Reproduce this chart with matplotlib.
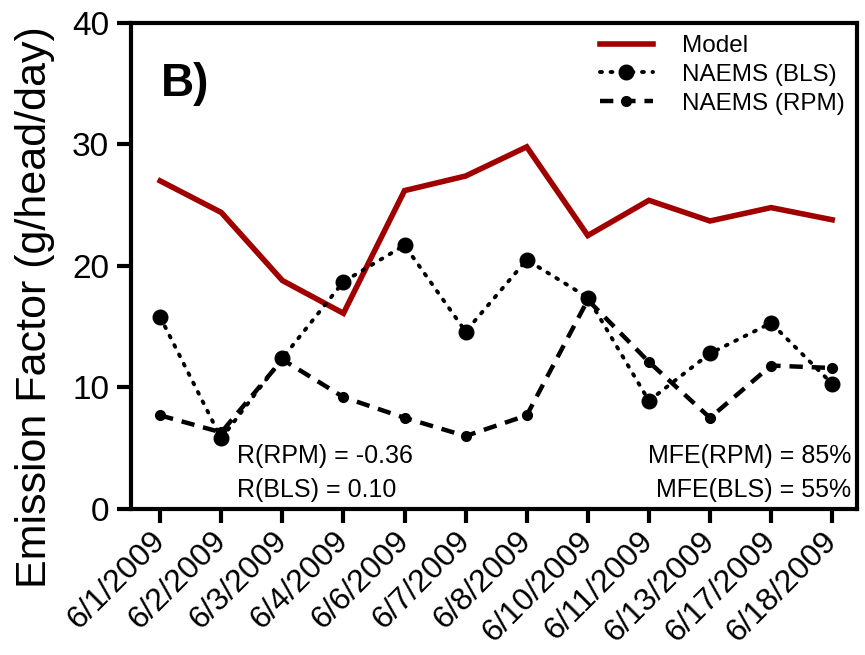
import matplotlib.pyplot as plt
import numpy as np

plt.rcParams['font.family'] = ['Liberation Sans', 'DejaVu Sans']

dates = ['6/1/2009', '6/2/2009', '6/3/2009', '6/4/2009', '6/6/2009', '6/7/2009',
         '6/8/2009', '6/10/2009', '6/11/2009', '6/13/2009', '6/17/2009', '6/18/2009']
model = [27.0, 24.4, 18.8, 16.1, 26.2, 27.4, 29.8, 22.5, 25.4, 23.7, 24.8, 23.8]
bls = [15.8, 5.8, 12.4, 18.7, 21.7, 14.6, 20.5, 17.4, 8.9, 12.8, 15.3, 10.3]
rpm = [7.7, 6.3, 12.3, 9.2, 7.5, 6.0, 7.7, 17.2, 12.1, 7.5, 11.8, 11.6]

x = np.arange(len(dates))

fig = plt.figure(figsize=(8.65, 6.55), dpi=100)
ax = fig.add_axes([0.152, 0.223, 0.839, 0.742])

ax.plot(x, model, color='#a00000', lw=4.0, solid_joinstyle='miter', label='Model', zorder=2)
ax.plot(x, bls, color='black', lw=2.8, ls=(0, (0.5, 2.2)), dash_capstyle='round',
        marker='o', ms=10.5, label='NAEMS (BLS)', zorder=3)
ax.plot(x, rpm, color='black', lw=3.2, ls=(0, (3.0, 2.0)),
        marker='o', ms=7, label='NAEMS (RPM)', zorder=3)

ax.set_xlim(-0.47, 11.41)
ax.set_ylim(0, 40)
ax.set_yticks([0, 10, 20, 30, 40])
ax.set_xticks(x)
ax.set_xticklabels(dates, rotation=45, ha='right', va='center', rotation_mode='anchor',
                   fontsize=23)
ax.tick_params(axis='y', labelsize=24, width=3, length=10, pad=6)
ax.tick_params(axis='x', width=3, length=10, pad=10)
for s in ax.spines.values():
    s.set_linewidth(3)

ax.set_ylabel('Emission Factor (g/head/day)', fontsize=31)
ax.yaxis.set_label_coords(-0.105, 0.416)

ax.text(0.04, 0.875, 'B)', transform=ax.transAxes, fontsize=33, fontweight='bold',
        va='center')

ax.text(0.145, 0.095, 'R(RPM) = -0.36', transform=ax.transAxes, fontsize=18)
ax.text(0.145, 0.025, 'R(BLS) = 0.10', transform=ax.transAxes, fontsize=18)
ax.text(0.992, 0.095, 'MFE(RPM) = 85%', transform=ax.transAxes, fontsize=18, ha='right')
ax.text(0.992, 0.025, 'MFE(BLS) = 55%', transform=ax.transAxes, fontsize=18, ha='right')

ax.legend(loc='upper right', frameon=False, fontsize=17.5, handlelength=2.2,
          handletextpad=1.2, labelspacing=0.28, borderaxespad=0.1,
          bbox_to_anchor=(1.0, 1.0))

fig.savefig('out.png', dpi=100)
